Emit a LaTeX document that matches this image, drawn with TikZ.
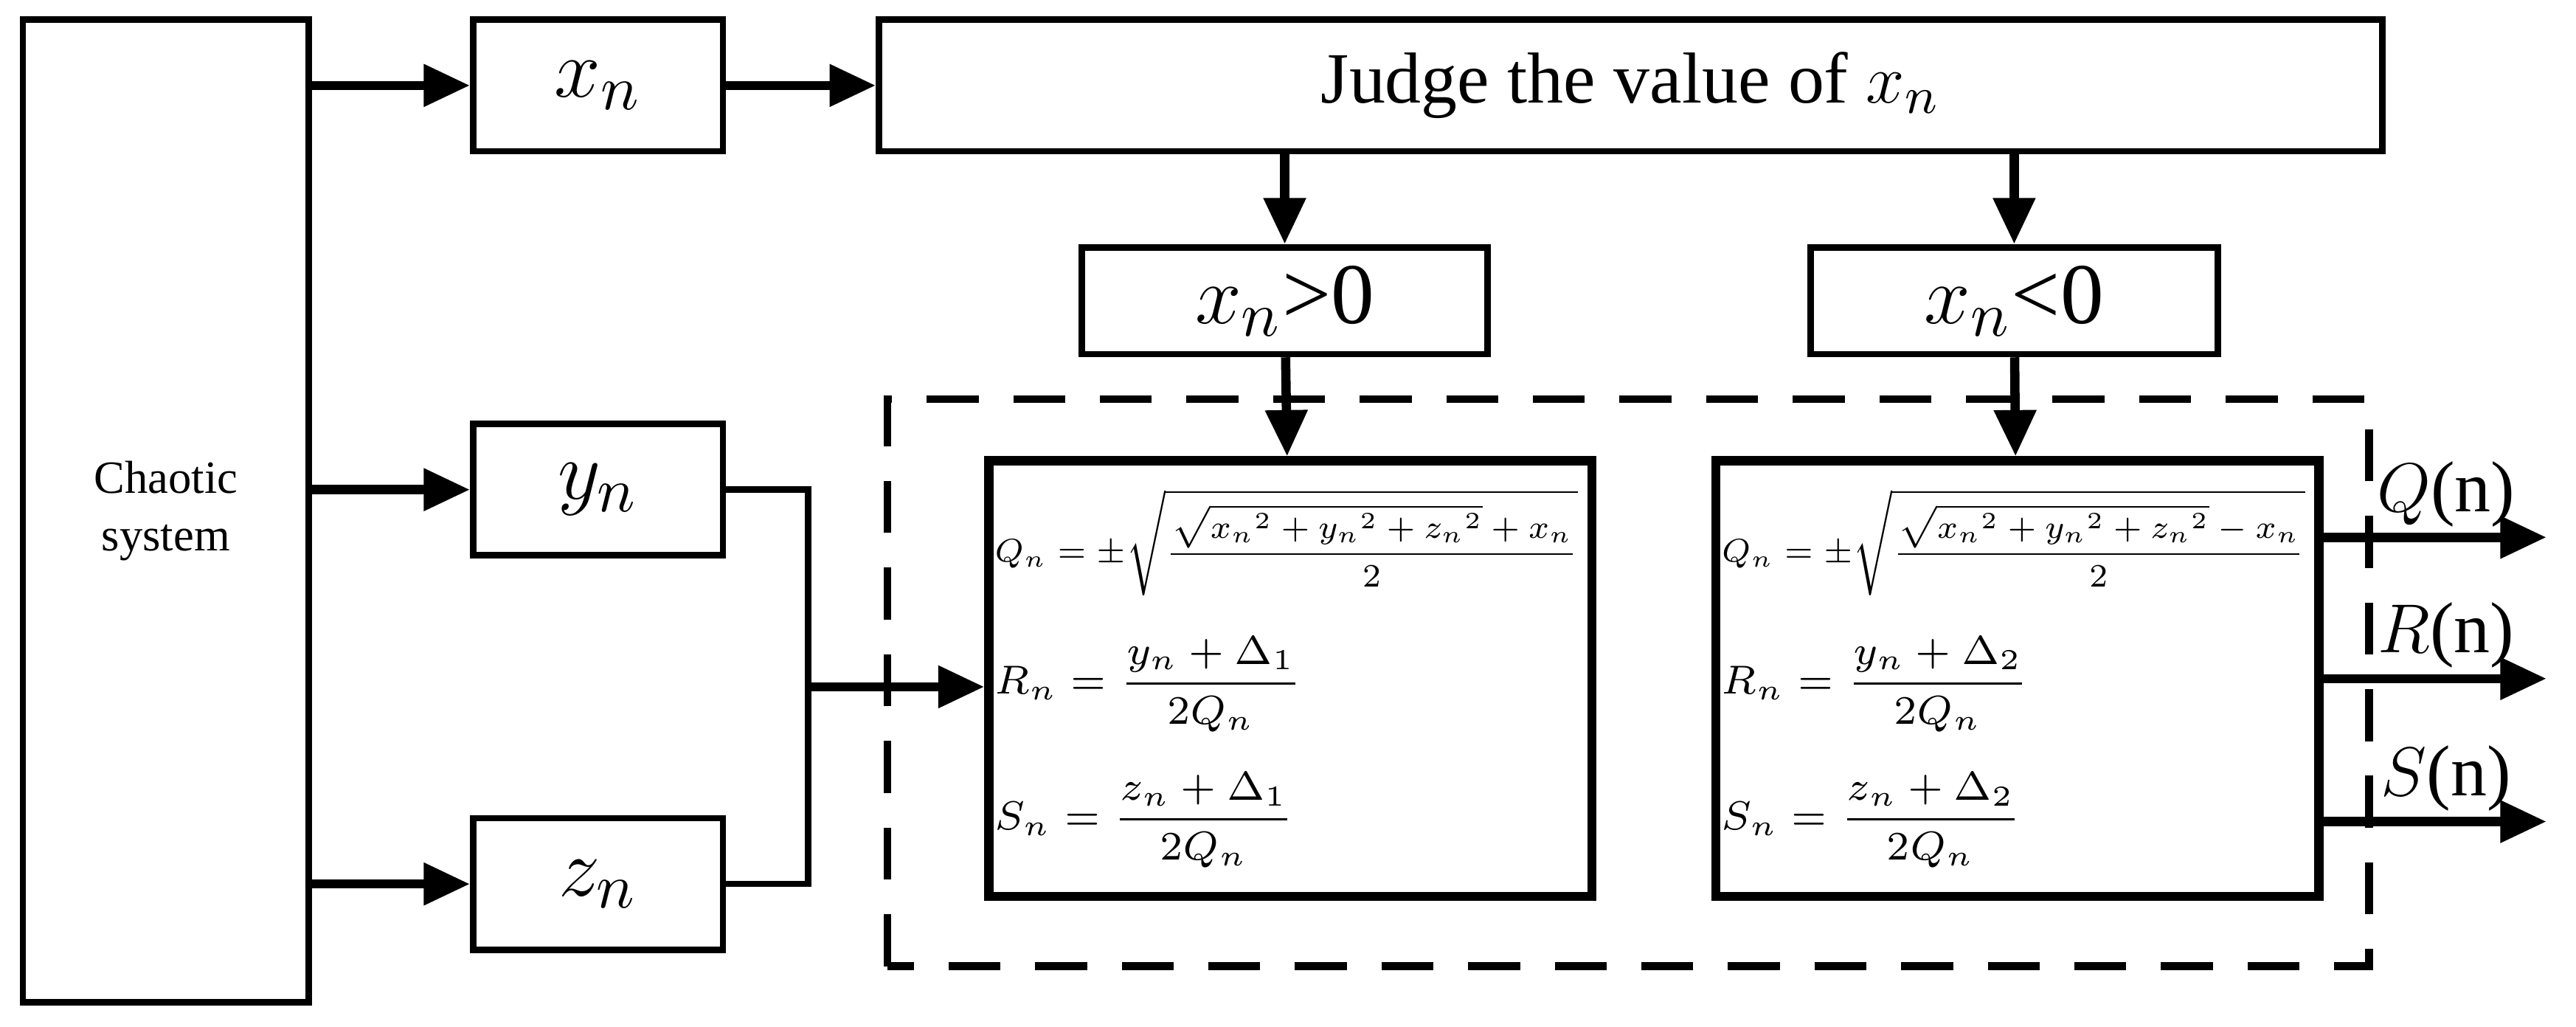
\documentclass[tikz,border=0pt]{standalone}
\usepackage{fontspec}
\usepackage{amsmath}
\usepackage{graphicx}
\setmainfont{Liberation Serif}
\usetikzlibrary{positioning, calc, arrows.meta}
\begin{document}
\begin{tikzpicture}
    \tikzstyle{block} = [rectangle, draw=black, line width=1.1pt, inner sep=0pt]
    \tikzstyle{formula} = [rectangle, draw=black, line width=1.6pt, minimum width=3.65cm, minimum height=2.65cm, inner sep=1pt, align=left, font=\fontsize{7.5}{10}\selectfont]
    \tikzstyle{arrow} = [line width=1.6pt, -{Triangle[length=8pt, width=7pt]}]
    \tikzstyle{outlabel} = [above, font=\fontsize{12.5}{13}\selectfont, inner sep=1pt]
    \useasboundingbox (0,0) rectangle (15.68,6.25);

    \node[block, minimum width=1.74cm, minimum height=5.98cm, font=\fontsize{8}{10}\selectfont, align=center] (chaos) at (1.01,3.14) {Chaotic\\system};
    \node[block, minimum width=1.52cm, minimum height=0.8cm, font=\fontsize{15}{15}\selectfont] (xn) at (3.64,5.73) {$x_n$};
    \node[block, minimum width=1.52cm, minimum height=0.8cm, font=\fontsize{15}{15}\selectfont] (yn) at (3.64,3.27) {$y_n$};
    \node[block, minimum width=1.52cm, minimum height=0.8cm, font=\fontsize{15}{15}\selectfont] (zn) at (3.64,0.87) {$z_n$};
    \node[block, minimum width=9.15cm, minimum height=0.8cm, font=\fontsize{12.5}{14}\selectfont] (judge) at (9.925,5.73) {Judge the value of $x_n$};
    \node[block, minimum width=2.47cm, minimum height=0.65cm, font=\fontsize{15}{15}\selectfont] (pos) at (7.82,4.42) {$x_n$>0};
    \node[block, minimum width=2.48cm, minimum height=0.65cm, font=\fontsize{15}{15}\selectfont] (neg) at (12.26,4.42) {$x_n$<0};

    % dashed frame around both formula boxes
    \draw[line width=1.3pt, dash pattern=on 9pt off 6pt] (5.40,0.37) rectangle (14.42,3.82);

    \node[formula, text width=3.6cm] (left) at (7.855,2.12) {%
        \resizebox{3.55cm}{!}{$Q_n=\pm\sqrt{\dfrac{\sqrt{x_n{}^2+y_n{}^2+z_n{}^2}+x_n}{2}}$}\\[6pt]
        $R_n=\dfrac{y_n+\Delta_1}{2Q_n}$\\[6pt]
        $S_n=\dfrac{z_n+\Delta_1}{2Q_n}$};
    \node[formula, text width=3.6cm] (right) at (12.28,2.12) {%
        \resizebox{3.55cm}{!}{$Q_n=\pm\sqrt{\dfrac{\sqrt{x_n{}^2+y_n{}^2+z_n{}^2}-x_n}{2}}$}\\[6pt]
        $R_n=\dfrac{y_n+\Delta_2}{2Q_n}$\\[6pt]
        $S_n=\dfrac{z_n+\Delta_2}{2Q_n}$};

    \coordinate (join) at (4.92,2.07);
    \coordinate (qout) at (15.50,2.98);
    \coordinate (rout) at (15.50,2.12);
    \coordinate (sout) at (15.50,1.25);

    \draw[arrow] (chaos.east |- xn) -- (xn);
    \draw[arrow] (chaos.east |- yn) -- (yn);
    \draw[arrow] (chaos.east |- zn) -- (zn);
    \draw[arrow] (xn) -- (judge);
    \draw[arrow] (judge.south -| pos) -- (pos);
    \draw[arrow] (judge.south -| neg) -- (neg);
    \draw[arrow] (pos) -- (left);
    \draw[arrow] (neg) -- (right);
    \draw[line width=1.1pt] (yn.east) -| (join |- zn) -- (zn.east);
    \draw[arrow] (join) -- (join -| left.west);
    \draw[arrow] (right.east |- qout) -- (qout) node[pos=0.55, outlabel] {$Q$(n)};
    \draw[arrow] (right.east |- rout) -- (rout) node[pos=0.55, outlabel] {$R$(n)};
    \draw[arrow] (right.east |- sout) -- (sout) node[pos=0.55, outlabel] {$S$(n)};
\end{tikzpicture}
\end{document}
